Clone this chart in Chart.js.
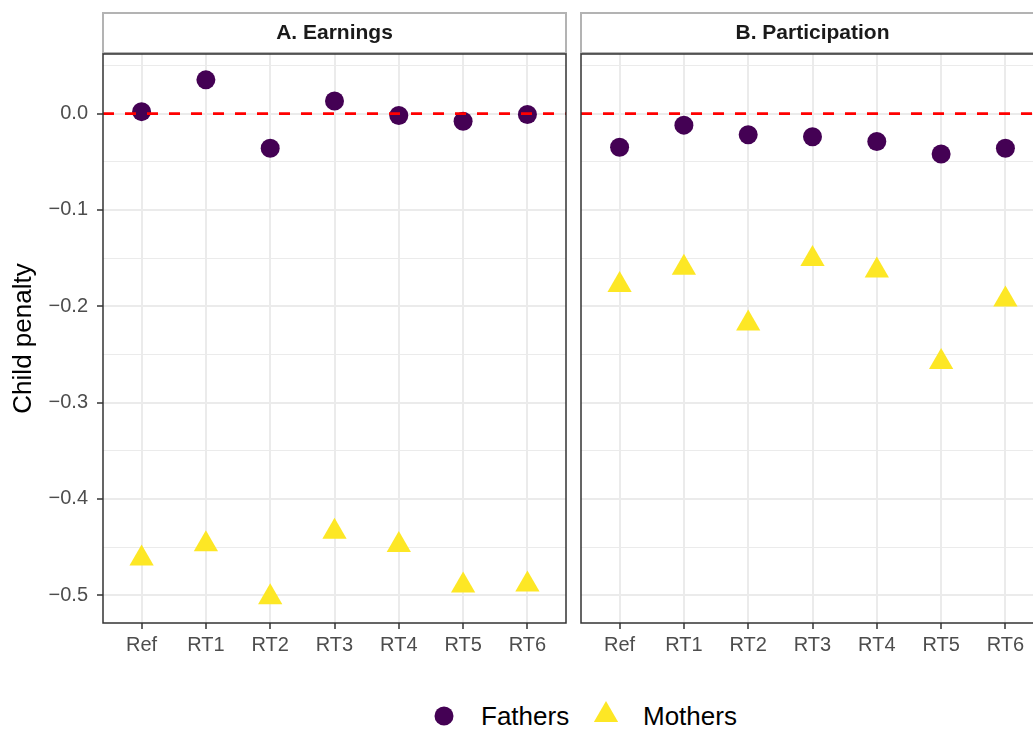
<!DOCTYPE html>
<html>
<head>
<meta charset="utf-8">
<script src="https://cdn.jsdelivr.net/npm/chart.js@4.4.1/dist/chart.umd.min.js"></script>
<style>
html, body { margin: 0; padding: 0; background: #ffffff; overflow: hidden; width: 1033px; height: 729px; }
#wrap { position: relative; width: 1033px; height: 729px; overflow: hidden; background: #fff; }
#cA { position: absolute; left: 0; top: 0; }
#cB { position: absolute; left: 575px; top: 0; }
.lg { position: absolute; font-family: "Liberation Sans", Arial, sans-serif; font-size: 26px; line-height: 30px; color: #000; white-space: nowrap; }
.lgmark { position: absolute; }
</style>
</head>
<body>
<div id="wrap">
  <canvas id="cA" width="575" height="670"></canvas>
  <canvas id="cB" width="480" height="670"></canvas>
  <svg class="lgmark" id="mkF" style="left:433px;top:705px" width="22" height="22"></svg>
  <div class="lg" id="lgF" style="left:481px;top:701px"></div>
  <svg class="lgmark" id="mkM" style="left:591px;top:698px" width="30" height="28"></svg>
  <div class="lg" id="lgM" style="left:643px;top:701px"></div>
</div>
<script>
// ---------------- data ----------------
const categories = ['Ref', 'RT1', 'RT2', 'RT3', 'RT4', 'RT5', 'RT6'];
const panelTitles = ['A. Earnings', 'B. Participation'];
const seriesNames = ['Fathers', 'Mothers'];
const earningsFathers = [0.002, 0.035, -0.036, 0.013, -0.002, -0.008, -0.001];
const earningsMothers = [-0.462, -0.447, -0.502, -0.434, -0.448, -0.490, -0.489];
const participationFathers = [-0.035, -0.012, -0.022, -0.024, -0.029, -0.042, -0.036];
const participationMothers = [-0.178, -0.160, -0.218, -0.151, -0.163, -0.258, -0.193];
const yTickValues = [0.0, -0.1, -0.2, -0.3, -0.4, -0.5];
const referenceLine = 0;

// ---------------- styling ----------------
const COL_F = '#440154';
const COL_M = '#FDE725';
const FONT = '"Liberation Sans", Arial, Helvetica, sans-serif';

// shared y range with ggplot-like 5% expansion
const allVals = [].concat(earningsFathers, earningsMothers, participationFathers, participationMothers);
const dMin = Math.min(...allVals), dMax = Math.max(...allVals);
const yPad = (dMax - dMin) * 0.05;
const yMin = dMin - yPad, yMax = dMax + yPad;

// x range with discrete expansion of 0.6
const xMin = 1 - 0.6, xMax = categories.length + 0.6;

function isMajor(v) { return yTickValues.some(t => Math.abs(t - v) < 1e-9); }
function buildYTicks() {
  const vals = [];
  yTickValues.forEach(v => vals.push(v));
  yTickValues.forEach(v => { [v + 0.05, v - 0.05].forEach(m => {
    if (m >= yMin && m <= yMax && !vals.some(x => Math.abs(x - m) < 1e-9)) vals.push(m);
  }); });
  vals.sort((a, b) => a - b);
  return vals.map(v => ({ value: v }));
}
function fmt(v) {
  const s = Math.abs(v) < 1e-9 ? '0.0' : v.toFixed(1);
  return s.replace('-', '\u2212');
}

const panelPlugin = {
  id: 'panelDeco',
  beforeDraw(chart) {
    const { ctx, chartArea: a } = chart;
    ctx.save();
    ctx.fillStyle = '#ffffff';
    ctx.fillRect(a.left, 12, a.width, 42);
    ctx.strokeStyle = '#B3B3B3';
    ctx.lineWidth = 2;
    ctx.strokeRect(a.left, 13, a.width, 40);
    ctx.restore();
  },
  afterDatasetsDraw(chart) {
    const { ctx, chartArea: a } = chart;
    const y0 = chart.scales.y.getPixelForValue(referenceLine);
    ctx.save();
    ctx.beginPath();
    ctx.rect(a.left, a.top, a.width, a.height);
    ctx.clip();
    ctx.strokeStyle = '#FF0000';
    ctx.lineWidth = 2.7;
    ctx.setLineDash([11, 11]);
    ctx.beginPath();
    ctx.moveTo(a.left, y0);
    ctx.lineTo(a.right, y0);
    ctx.stroke();
    ctx.restore();
    ctx.save();
    ctx.strokeStyle = '#333333';
    ctx.lineWidth = 1.5;
    ctx.strokeRect(a.left, a.top, a.width, a.height);
    ctx.restore();
  }
};

function makeChart(canvasId, title, fathers, mothers, showY, padLeft, padRight) {
  const canvas = document.getElementById(canvasId);
  return new Chart(canvas, {
    type: 'scatter',
    data: {
      datasets: [
        {
          label: seriesNames[0],
          data: fathers.map((v, i) => ({ x: i + 1, y: v })),
          pointStyle: 'circle', pointRadius: 9.5, pointHoverRadius: 9.5,
          backgroundColor: COL_F, borderColor: COL_F, borderWidth: 0
        },
        {
          label: seriesNames[1],
          data: mothers.map((v, i) => ({ x: i + 1, y: v })),
          pointStyle: 'triangle', pointRadius: 14, pointHoverRadius: 14,
          backgroundColor: COL_M, borderColor: COL_M, borderWidth: 0
        }
      ]
    },
    options: {
      responsive: false,
      animation: false,
      events: [],
      layout: { autoPadding: false, padding: { left: padLeft, right: padRight, top: 0, bottom: 0 } },
      plugins: {
        legend: { display: false },
        tooltip: { enabled: false },
        title: {
          display: true, text: title, fullSize: false,
          color: '#1A1A1A', font: { family: FONT, size: 21, weight: 'bold' },
          padding: { top: 20.4, bottom: 8.4 }
        }
      },
      scales: {
        x: {
          type: 'linear', min: xMin, max: xMax,
          afterBuildTicks: s => { s.ticks = categories.map((c, i) => ({ value: i + 1 })); },
          afterFit: s => { s.height = 670 - 623; s.paddingLeft = 0; s.paddingRight = 0; },
          ticks: {
            callback: (v, i) => categories[i],
            color: '#4D4D4D', font: { family: FONT, size: 20 },
            padding: 4, autoSkip: false, maxRotation: 0
          },
          grid: { color: '#EBEBEB', lineWidth: 2, drawTicks: true, tickLength: 6, tickColor: '#333333', tickWidth: 1.5 },
          border: { display: false }
        },
        y: {
          type: 'linear', min: yMin, max: yMax,
          afterBuildTicks: s => { s.ticks = buildYTicks(); },
          afterFit: s => { s.width = showY ? 103 : 0; s.paddingTop = 0; s.paddingBottom = 0; },
          ticks: {
            display: showY,
            callback: v => isMajor(v) ? fmt(v) : '',
            color: '#4D4D4D', font: { family: FONT, size: 20 },
            padding: 9
          },
          grid: {
            color: '#EBEBEB',
            lineWidth: c => isMajor(c.tick.value) ? 2 : 1,
            drawTicks: showY, tickLength: 6, tickWidth: 1.5,
            tickColor: c => isMajor(c.tick.value) ? '#333333' : 'rgba(0,0,0,0)'
          },
          border: { display: false },
          title: {
            display: showY, text: 'Child penalty', color: '#000000',
            font: { family: FONT, size: 26 }, padding: { top: 8, bottom: 0 }
          }
        }
      }
    },
    plugins: [panelPlugin]
  });
}

makeChart('cA', panelTitles[0], earningsFathers, earningsMothers, true, 0, 9);
makeChart('cB', panelTitles[1], participationFathers, participationMothers, false, 6, 11);

// legend
document.getElementById('lgF').textContent = seriesNames[0];
document.getElementById('lgM').textContent = seriesNames[1];
const NS = 'http://www.w3.org/2000/svg';
const c = document.createElementNS(NS, 'circle');
c.setAttribute('cx', 11); c.setAttribute('cy', 11); c.setAttribute('r', 9.5); c.setAttribute('fill', COL_F);
document.getElementById('mkF').appendChild(c);
const t = document.createElementNS(NS, 'polygon');
// triangle inscribed in r=14 circle centred at (15, 17)
const r = 14, cx = 15, cy = 17;
const pts = [0, 1, 2].map(k => {
  const ang = k * 2 * Math.PI / 3;
  return (cx + Math.sin(ang) * r).toFixed(2) + ',' + (cy - Math.cos(ang) * r).toFixed(2);
}).join(' ');
t.setAttribute('points', pts); t.setAttribute('fill', COL_M);
document.getElementById('mkM').appendChild(t);
</script>
</body>
</html>
